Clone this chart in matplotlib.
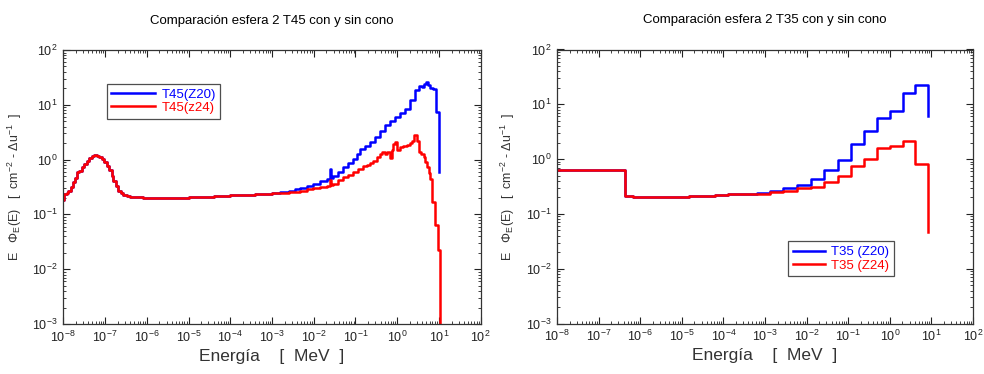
import matplotlib
matplotlib.use("Agg")
import matplotlib.pyplot as plt
import numpy as np
from matplotlib.ticker import LogLocator, NullFormatter

plt.rcParams['font.family'] = ['Liberation Sans', 'DejaVu Sans']
plt.rcParams['mathtext.fontset'] = 'custom'
plt.rcParams['mathtext.rm'] = 'Liberation Sans'
plt.rcParams['mathtext.it'] = 'Liberation Sans:italic'
plt.rcParams['mathtext.bf'] = 'Liberation Sans:bold'
plt.rcParams['axes.unicode_minus'] = False

# --- Data: left panel (T45), log10(E / MeV) and flux per lethargy ---
# thermal + epithermal part, same for both configurations
log_e_t45_common = [-8.00, -7.98, -7.92, -7.88, -7.82, -7.76, -7.72, -7.68, -7.62, -7.56,
                    -7.50, -7.44, -7.38, -7.32, -7.26, -7.20, -7.14, -7.08, -7.02, -6.96,
                    -6.90, -6.84, -6.80, -6.74, -6.68, -6.62, -6.56, -6.48, -6.40, -6.24,
                    -6.08, -5.80, -5.60, -5.40, -5.20, -5.00, -4.80, -4.60, -4.40, -4.20,
                    -4.00, -3.80, -3.60, -3.40, -3.20, -3.00]
phi_t45_common = [0.18, 0.24, 0.25, 0.27, 0.32, 0.39, 0.47, 0.59, 0.62, 0.73,
                  0.83, 0.96, 1.05, 1.15, 1.19, 1.18, 1.12, 1.03, 0.92, 0.78,
                  0.64, 0.50, 0.41, 0.33, 0.27, 0.245, 0.23, 0.218, 0.212, 0.205,
                  0.201, 0.199, 0.200, 0.201, 0.203, 0.205, 0.208, 0.211, 0.215, 0.218,
                  0.222, 0.226, 0.230, 0.235, 0.240, 0.246]

# fast part, Z20
log_e_t45_z20 = [-2.80, -2.60, -2.45, -2.33, -2.17, -2.01, -1.85, -1.69, -1.62, -1.58,
                 -1.53, -1.41, -1.29, -1.17, -1.05, -0.97, -0.89, -0.77, -0.65, -0.53,
                 -0.41, -0.29, -0.17, -0.05, 0.07, 0.19, 0.31, 0.43, 0.51, 0.59,
                 0.65, 0.69, 0.74, 0.79, 0.85, 0.93, 1.01]
phi_t45_z20 = [0.256, 0.27, 0.285, 0.305, 0.33, 0.363, 0.40, 0.447, 0.68, 0.47,
               0.51, 0.60, 0.72, 0.85, 1.03, 1.25, 1.57, 1.80, 2.08, 2.6,
               3.39, 4.2, 5.16, 6.1, 7.0, 8.5, 12.0, 18.3, 22.4, 21.4,
               24.0, 25.7, 23.0, 20.4, 19.8, 7.3, 0.59]

# fast part, Z24
log_e_t45_z24 = [-2.80, -2.60, -2.33, -2.17, -2.01, -1.85, -1.69, -1.62, -1.58, -1.53,
                 -1.41, -1.29, -1.17, -1.05, -0.93, -0.81, -0.73, -0.65, -0.57, -0.49,
                 -0.41, -0.37, -0.29, -0.25, -0.17, -0.13, -0.09, -0.05, -0.01, 0.07,
                 0.15, 0.23, 0.31, 0.35, 0.40, 0.47, 0.53, 0.58, 0.63, 0.67,
                 0.71, 0.75, 0.79, 0.84, 0.91, 0.97, 1.02]
phi_t45_z24 = [0.25, 0.26, 0.27, 0.29, 0.305, 0.32, 0.335, 0.43, 0.345, 0.363,
               0.42, 0.48, 0.53, 0.59, 0.66, 0.75, 0.80, 0.86, 0.95, 1.11,
               1.25, 1.37, 1.28, 1.37, 1.07, 1.5, 1.9, 2.1, 1.47, 1.68,
               1.75, 1.81, 2.0, 2.23, 2.76, 2.23, 1.37, 1.25, 1.11, 0.90,
               0.72, 0.58, 0.45, 0.167, 0.063, 0.022, 1e-5]

# --- Data: right panel (T35), bin edges in MeV ---
edges_t35 = [1e-8, 4.2e-7, 6.8e-7, 1.45e-5, 6.3e-5, 1.32e-4, 6.3e-4, 1.32e-3, 2.75e-3,
             5.75e-3, 1.26e-2, 2.63e-2, 5.62e-2, 0.117, 0.245, 0.49, 1.0, 2.04, 4.07, 8.5]
phi_t35_z20 = [0.64, 0.21, 0.20, 0.208, 0.217, 0.229, 0.245, 0.267, 0.291, 0.33,
               0.425, 0.62, 0.97, 1.9, 3.28, 5.67, 7.7, 16.2, 22.3]
phi_t35_z24 = [0.64, 0.21, 0.20, 0.208, 0.217, 0.229, 0.235, 0.246, 0.267, 0.291,
               0.316, 0.39, 0.50, 0.74, 1.0, 1.6, 1.72, 2.12, 0.80]
end_t35_z20 = 6.07
end_t35_z24 = 0.046

titles = ['Comparación esfera 2 T45 con y sin cono',
          'Comparación esfera 2 T35 con y sin cono']
labels_left = ['T45(Z20)', 'T45(z24)']
labels_right = ['T35 (Z20)', 'T35 (Z24)']
BLUE = '#0000ff'
RED = '#ff0000'

fig = plt.figure(figsize=(9.84, 3.74), dpi=100)
ax1 = fig.add_axes([63.3 / 984, 1 - 324 / 374, 417.4 / 984, 274 / 374])
ax2 = fig.add_axes([557 / 984, 1 - 323.5 / 374, 416 / 984, 274 / 374])

# left panel
e_z20 = 10.0 ** np.array(log_e_t45_common + log_e_t45_z20)
p_z20 = np.array(phi_t45_common + phi_t45_z20)
e_z24 = 10.0 ** np.array(log_e_t45_common + log_e_t45_z24)
p_z24 = np.array(phi_t45_common + phi_t45_z24)
ax1.step(e_z20, p_z20, where='post', color=BLUE, lw=1.8, label=labels_left[0])
ax1.step(e_z24, p_z24, where='post', color=RED, lw=1.8, label=labels_left[1])

# right panel
ax2.step(edges_t35, phi_t35_z20 + [end_t35_z20], where='post', color=BLUE, lw=1.8,
         label=labels_right[0])
ax2.step(edges_t35, phi_t35_z24 + [end_t35_z24], where='post', color=RED, lw=1.8,
         label=labels_right[1])

ylab = r'E   $\Phi_{\mathrm{E}}$(E)   [  cm$^{-2}$ - $\Delta$u$^{-1}$  ]'
for ax, title in zip([ax1, ax2], titles):
    ax.set_xscale('log')
    ax.set_yscale('log')
    ax.set_xlim(1e-8, 1e2)
    ax.set_ylim(1e-3, 1e2)
    ax.xaxis.set_major_locator(LogLocator(base=10, numticks=20))
    ax.xaxis.set_minor_locator(LogLocator(base=10, subs=np.arange(2, 10), numticks=20))
    ax.xaxis.set_minor_formatter(NullFormatter())
    ax.yaxis.set_major_locator(LogLocator(base=10, numticks=20))
    ax.yaxis.set_minor_locator(LogLocator(base=10, subs=np.arange(2, 10), numticks=20))
    ax.yaxis.set_minor_formatter(NullFormatter())
    ax.tick_params(which='both', direction='in', top=True, right=True, labelsize=9,
                   colors='#222222', pad=4)
    ax.tick_params(which='major', length=5, width=0.8)
    ax.tick_params(which='minor', length=2.5, width=0.6)
    for sp in ax.spines.values():
        sp.set_color('#333333')
        sp.set_linewidth(0.9)
    ax.set_title(title, fontsize=9.5, pad=19,
                 family=['Liberation Sans Narrow', 'Liberation Sans'])
    ax.set_xlabel('Energía    [  MeV  ]', fontsize=12.5, labelpad=3, color='#333333')
    ax.set_ylabel(ylab, fontsize=9, labelpad=6, color='#333333')

leg1 = ax1.legend(loc='upper left', bbox_to_anchor=(0.104, 0.875), fontsize=9.5,
                  handlelength=3.3, handletextpad=0.5, borderpad=0.35, labelspacing=0.05,
                  frameon=True, fancybox=False, borderaxespad=0)
leg2 = ax2.legend(loc='upper left', bbox_to_anchor=(0.556, 0.30), fontsize=9.5,
                  handlelength=2.4, handletextpad=0.5, borderpad=0.35, labelspacing=0.1,
                  frameon=True, fancybox=False, borderaxespad=0)
for leg in (leg1, leg2):
    leg.get_frame().set_edgecolor('#222222')
    leg.get_frame().set_linewidth(0.9)
    for txt, col in zip(leg.get_texts(), [BLUE, RED]):
        txt.set_color(col)

fig.savefig('out.png', dpi=100)
